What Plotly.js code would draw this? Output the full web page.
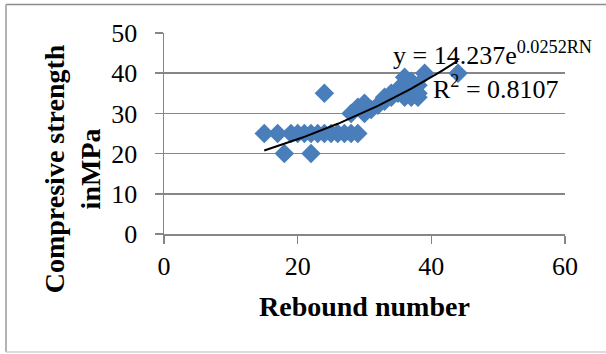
<!DOCTYPE html>
<html>
<head>
<meta charset="utf-8">
<script src="https://cdn.plot.ly/plotly-3.0.1.min.js"></script>
<style>html,body{margin:0;padding:0;background:#fff;}#chart{width:606px;height:354px;}</style>
</head>
<body>
<div id="chart"></div>
<script>
// Data
const rebound  = [15,17,18,19,20,21,22,22,23,24,24,25,26,27,28,28,29,29,30,30,31,32,33,33,34,34,35,35,36,36,36,37,37,38,38,38,39,44];
const strength = [25,25,20,25,25,25,20,25,25,25,35,25,25,25,25,30,25,31.5,30,32.5,31,32,33,34,34,35,35,36,34,36,39,34,38,34,35,37,40,40];

// Exponential trendline as displayed on the chart
const fitA = 14.237;
const fitB = 0.0252;
const fitStart = 15, fitEnd = 44;

const xTickVals = [0,20,40,60];
const yTickVals = [0,10,20,30,40,50];

const xTitle = "Rebound number";
const yTitleLines = ["Compresive strength", "inMPa"];
const eqText = "y = 14.237e<sup>0.0252RN</sup>";
const r2Text = "R<sup>2</sup> = 0.8107";

const trendX = [], trendY = [];
for (let x = fitStart; x <= fitEnd + 1e-9; x += 0.5) { trendX.push(x); trendY.push(fitA * Math.exp(fitB * x)); }

const serif = "Liberation Serif, Times New Roman, serif";
const axisGrey = "#868686";

const traces = [
  {x: rebound, y: strength, type: "scatter", mode: "markers",
   marker: {symbol: "diamond", size: 15, color: "#4a7ebb", line: {width: 0}},
   hoverinfo: "x+y", showlegend: false, cliponaxis: false},
  {x: trendX, y: trendY, type: "scatter", mode: "lines",
   line: {color: "#000000", width: 2}, showlegend: false, hoverinfo: "skip", cliponaxis: false}
];

const layout = {
  width: 606, height: 354,
  margin: {l: 164, r: 41, t: 33, b: 120, pad: 0},
  paper_bgcolor: "#ffffff", plot_bgcolor: "#ffffff",
  showlegend: false,
  font: {family: serif, color: "#000000", size: 26},
  xaxis: {range: [0, 60], tickvals: xTickVals, ticks: "outside", ticklen: 8, tickwidth: 1.5,
          tickcolor: axisGrey, showline: true, linecolor: axisGrey, linewidth: 1.5,
          showgrid: false, zeroline: false, tickfont: {family: serif, size: 26, color: "#000"}},
  yaxis: {range: [0, 50], tickvals: yTickVals, ticks: "outside", ticklen: 8, tickwidth: 1.5,
          tickcolor: axisGrey, showline: true, linecolor: axisGrey, linewidth: 1.5,
          showgrid: true, gridcolor: axisGrey, gridwidth: 1.5, zeroline: false,
          ticklabelstandoff: 12,
          tickfont: {family: serif, size: 26, color: "#000"}},
  annotations: [
    {text: "<b>" + xTitle + "</b>", xref: "paper", yref: "paper", x: 0.5, y: -0.363,
     xanchor: "center", yanchor: "middle", showarrow: false, font: {family: serif, size: 28, color: "#000"}},
    {text: "<b>" + yTitleLines.join("<br>") + "</b>", xref: "paper", yref: "paper", x: -0.229, y: 0.323,
     xanchor: "center", yanchor: "middle", textangle: -90, showarrow: false,
     font: {family: serif, size: 28, color: "#000"}},
    {text: eqText, xref: "x", yref: "y", x: 49.2, y: 44.9, xanchor: "center", yanchor: "middle",
     showarrow: false, borderpad: 0, font: {family: serif, size: 26, color: "#000"}},
    {text: r2Text, xref: "x", yref: "y", x: 49.7, y: 36.5, xanchor: "center", yanchor: "middle",
     showarrow: false, borderpad: 0, font: {family: serif, size: 26, color: "#000"}}
  ],
  shapes: [
    {type: "line", xref: "paper", yref: "paper", x0: -0.394, x1: 1.11, y0: 1.1418, y1: 1.1418, line: {color: "#8c8c8c", width: 1.5}},
    {type: "line", xref: "paper", yref: "paper", x0: -0.394, x1: -0.394, y0: 1.1418, y1: -0.587, line: {color: "#9a9a9a", width: 1.5}},
    {type: "line", xref: "paper", yref: "paper", x0: -0.394, x1: 1.11, y0: -0.587, y1: -0.587, line: {color: "#d0d0d0", width: 1.5}}
  ]
};

Plotly.newPlot("chart", traces, layout, {displayModeBar: false, staticPlot: true});
</script>
</body>
</html>
